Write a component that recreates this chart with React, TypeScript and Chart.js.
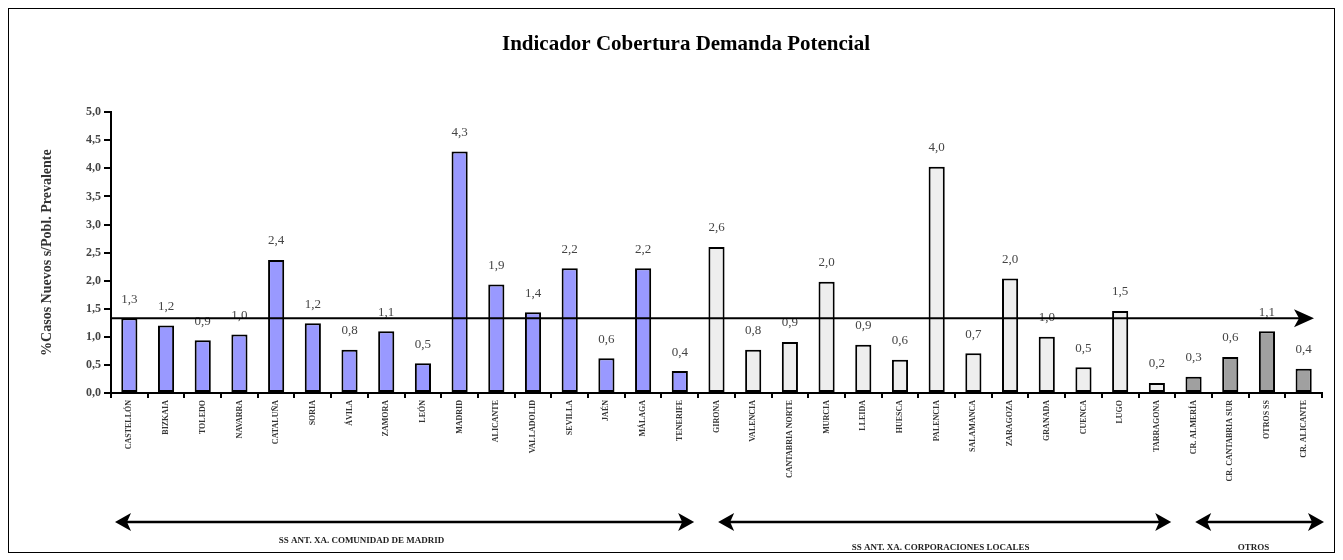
import React, { useEffect, useRef } from "react";
import { Chart, registerables } from "chart.js";

Chart.register(...registerables);

const chartTitle = "Indicador Cobertura Demanda Potencial";
const yAxisTitle = "%Casos Nuevos s/Pobl. Prevalente";

const groupACategories = [
  "CASTELLÓN", "BIZKAIA", "TOLEDO", "NAVARRA", "CATALUÑA", "SORIA", "ÁVILA", "ZAMORA",
  "LEÓN", "MADRID", "ALICANTE", "VALLADOLID", "SEVILLA", "JAÉN", "MÁLAGA", "TENERIFE",
];
const groupBCategories = [
  "GIRONA", "VALENCIA", "CANTABRIA NORTE", "MURCIA", "LLEIDA", "HUESCA", "PALENCIA",
  "SALAMANCA", "ZARAGOZA", "GRANADA", "CUENCA", "LUGO", "TARRAGONA",
];
const groupCCategories = ["CR. ALMERÍA", "CR. CANTABRIA SUR", "OTROS SS", "CR. ALICANTE"];

const groupAValues = [1.33, 1.2, 0.94, 1.04, 2.37, 1.24, 0.77, 1.1, 0.53, 4.3, 1.93, 1.44, 2.22, 0.62, 2.22, 0.39];
const groupBValues = [2.6, 0.77, 0.91, 1.98, 0.86, 0.59, 4.03, 0.71, 2.04, 1.0, 0.46, 1.46, 0.18];
const groupCValues = [0.29, 0.64, 1.1, 0.43];

const averageValue = 1.33;

const groupLabels = [
  "SS ANT. XA. COMUNIDAD DE MADRID",
  "SS ANT. XA. CORPORACIONES LOCALES",
  "OTROS",
];

const yTicks = [0, 0.5, 1, 1.5, 2, 2.5, 3, 3.5, 4, 4.5, 5];

const fmt = (v: number) => v.toFixed(1).replace(".", ",");

export default function App() {
  const canvasRef = useRef<HTMLCanvasElement | null>(null);

  useEffect(() => {
    if (!canvasRef.current) return;
    const categories = [...groupACategories, ...groupBCategories, ...groupCCategories];
    const values = [...groupAValues, ...groupBValues, ...groupCValues];
    const colors = [
      ...groupAValues.map(() => "#9999FF"),
      ...groupBValues.map(() => "#EEEEEE"),
      ...groupCValues.map(() => "#A0A0A0"),
    ];
    const groupSizes = [groupAValues.length, groupBValues.length, groupCValues.length];
    const labelShift = [-43, -4, -6];
    const labelY = [532, 539, 539];

    const drawArrowHead = (ctx: CanvasRenderingContext2D, x: number, y: number, dir: number, len: number, half: number) => {
      ctx.beginPath();
      ctx.moveTo(x, y);
      ctx.lineTo(x - dir * len, y - half);
      ctx.lineTo(x - dir * len * 0.75, y);
      ctx.lineTo(x - dir * len, y + half);
      ctx.closePath();
      ctx.fill();
    };

    const overlay = {
      id: "overlay",
      afterDatasetsDraw(chart: any) {
        const ctx = chart.ctx as CanvasRenderingContext2D;
        const xs = chart.scales.x;
        const ys = chart.scales.y;
        const area = chart.chartArea;
        ctx.save();
        // value labels
        const meta = chart.getDatasetMeta(0);
        ctx.font = "13px 'Liberation Serif', serif";
        ctx.fillStyle = "#444";
        ctx.textAlign = "center";
        ctx.textBaseline = "middle";
        meta.data.forEach((bar: any, i: number) => {
          ctx.fillText(fmt(values[i]), bar.x, bar.y - 19);
        });
        // average line with arrow
        const ay = ys.getPixelForValue(averageValue);
        const endX = area.right - 8;
        ctx.strokeStyle = "#000";
        ctx.fillStyle = "#000";
        ctx.lineWidth = 2;
        ctx.beginPath();
        ctx.moveTo(area.left, ay);
        ctx.lineTo(endX - 12, ay);
        ctx.stroke();
        drawArrowHead(ctx, endX, ay, 1, 20, 9);

        // group arrows
        const gy = 513;
        let start = 0;
        ctx.font = "bold 9px 'Liberation Serif', serif";
        groupSizes.forEach((n, gi) => {
          const half = (xs.getPixelForValue(1) - xs.getPixelForValue(0)) / 2;
          const lx = xs.getPixelForValue(start) - half + (gi === 0 ? 4 : 20);
          const rx = xs.getPixelForValue(start + n - 1) + half - (gi === 2 ? -2 : 4);
          ctx.lineWidth = 2.5;
          ctx.beginPath();
          ctx.moveTo(lx + 10, gy);
          ctx.lineTo(rx - 10, gy);
          ctx.stroke();
          drawArrowHead(ctx, lx, gy, -1, 16, 9);
          drawArrowHead(ctx, rx, gy, 1, 16, 9);
          ctx.fillStyle = "#222";
          ctx.textBaseline = "middle";
          ctx.fillText(groupLabels[gi], (lx + rx) / 2 + labelShift[gi], labelY[gi]);
          ctx.fillStyle = "#000";
          start += n;
        });
        ctx.restore();
      },
    };

    const chart = new Chart(canvasRef.current, {
      type: "bar",
      data: {
        labels: categories,
        datasets: [
          {
            data: values,
            backgroundColor: colors,
            borderColor: "#000",
            borderWidth: 2,
            borderSkipped: false,
            categoryPercentage: 1,
            barPercentage: 0.44,
          },
        ],
      },
      options: {
        animation: false,
        responsive: false,
        maintainAspectRatio: false,
        layout: { padding: { left: 41, right: 12, top: 0, bottom: 0 } },
        plugins: {
          legend: { display: false },
          tooltip: { enabled: false },
          title: {
            display: true,
            text: chartTitle,
            color: "#000",
            font: { family: "'Liberation Serif', serif", size: 21, weight: "bold" },
            padding: { top: 23, bottom: 55 },
          },
        },
        scales: {
          x: {
            offset: true,
            grid: {
              offset: true,
              drawOnChartArea: false,
              drawTicks: true,
              tickLength: 5,
              color: "#000",
              lineWidth: 2,
            },
            border: { display: true, color: "#000", width: 2 },
            ticks: {
              autoSkip: false,
              maxRotation: 90,
              minRotation: 90,
              padding: 2,
              color: "#333",
              font: { family: "'Liberation Serif', serif", size: 8, weight: "bold" },
            },
            afterFit: (s: any) => {
              s.height = 159;
            },
          },
          y: {
            min: 0,
            max: 5,
            afterBuildTicks: (s: any) => {
              s.ticks = yTicks.map((v) => ({ value: v }));
            },
            grid: {
              drawOnChartArea: false,
              drawTicks: true,
              tickLength: 7,
              color: "#000",
              lineWidth: 2,
            },
            border: { display: true, color: "#000", width: 2 },
            ticks: {
              padding: 3,
              color: "#444",
              font: { family: "'Liberation Serif', serif", size: 12, weight: "bold" },
              callback: (v: any) => fmt(Number(v)),
            },
            title: {
              display: true,
              text: yAxisTitle,
              color: "#333",
              font: { family: "'Liberation Serif', serif", size: 14, weight: "bold" },
              padding: { top: -11.4, bottom: 0 },
            },
            afterFit: (s: any) => {
              s.width = 61;
            },
          },
        },
      },
      plugins: [overlay],
    });
    return () => chart.destroy();
  }, []);

  return (
    <div style={{ width: 1325, height: 543, border: "1px solid #000", background: "#fff" }}>
      <canvas ref={canvasRef} width={1325} height={543} style={{ display: "block" }} />
    </div>
  );
}
